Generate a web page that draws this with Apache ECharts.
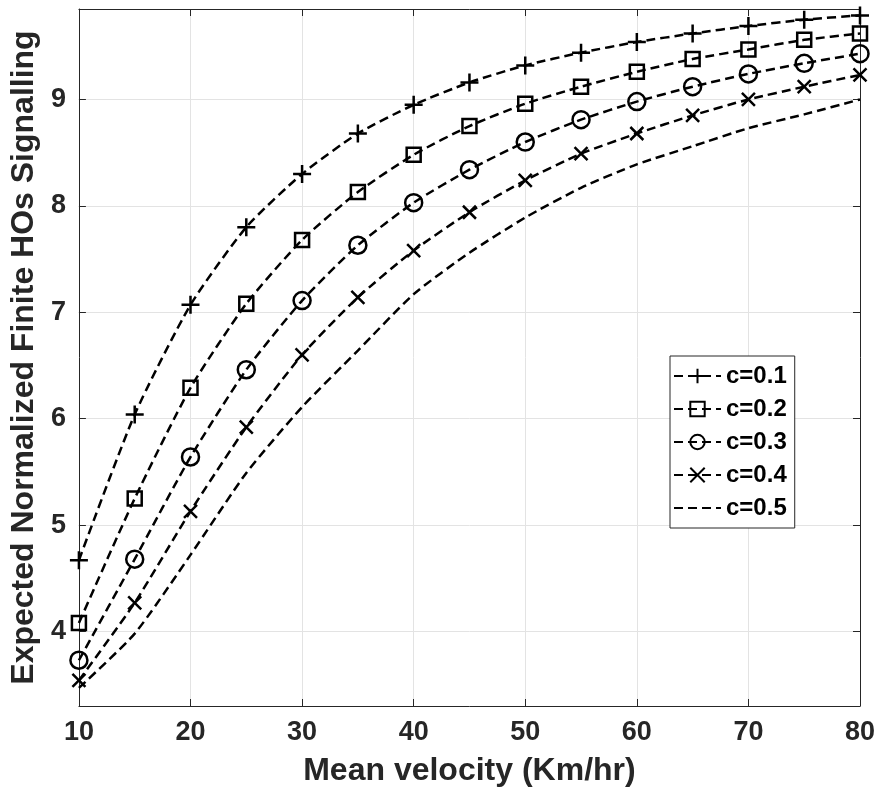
<!DOCTYPE html>
<html>
<head>
<meta charset="utf-8">
<script src="https://cdn.jsdelivr.net/npm/echarts@6/dist/echarts.min.js"></script>
<style>html,body{margin:0;padding:0;background:#fff}#chart{width:883px;height:798px}</style>
</head>
<body>
<div id="chart"></div>
<script>
const velocity = [10, 15, 20, 25, 30, 35, 40, 45, 50, 55, 60, 65, 70, 75, 80];
const c01 = [4.67, 6.04, 7.07, 7.80, 8.30, 8.68, 8.95, 9.16, 9.32, 9.44, 9.54, 9.62, 9.69, 9.75, 9.79];
const c02 = [4.08, 5.25, 6.29, 7.08, 7.68, 8.13, 8.48, 8.75, 8.96, 9.12, 9.26, 9.38, 9.47, 9.56, 9.62];
const c03 = [3.73, 4.68, 5.64, 6.46, 7.11, 7.63, 8.03, 8.34, 8.60, 8.81, 8.98, 9.12, 9.24, 9.34, 9.43];
const c04 = [3.54, 4.27, 5.13, 5.92, 6.60, 7.14, 7.58, 7.94, 8.24, 8.49, 8.68, 8.85, 9.00, 9.12, 9.23];
const c05 = [3.47, 3.98, 4.72, 5.49, 6.11, 6.64, 7.17, 7.56, 7.89, 8.17, 8.39, 8.56, 8.73, 8.86, 9.00];
const seriesNames = ['c=0.1', 'c=0.2', 'c=0.3', 'c=0.4', 'c=0.5'];
const xTitle = 'Mean velocity (Km/hr)';
const yTitle = 'Expected Normalized Finite HOs Signalling';

const FONT = 'Liberation Sans';
const TXT = '#262626';
const PLUS = 'path://M0,5L10,5M5,0L5,10';
const CROSS = 'path://M0,0L10,10M10,0L0,10';

function pairs(ys) { return velocity.map((v, i) => [v, ys[i]]); }

function mk(name, ys, symbol, size, show) {
  return {
    name: name,
    type: 'line',
    xAxisIndex: 0,
    yAxisIndex: 0,
    data: pairs(ys),
    smooth: 0.2,
    symbol: symbol,
    symbolSize: size,
    showSymbol: show,
    lineStyle: { color: '#000', width: 2.5, type: [9, 5] },
    itemStyle: { color: 'rgba(0,0,0,0)', borderColor: '#000', borderWidth: show ? 2.5 : 0 },
    emphasis: { disabled: true },
    z: 3
  };
}

const legendItems = seriesNames.map((n, i) => i === 4
  ? { name: n, itemStyle: { color: 'rgba(0,0,0,0)', borderWidth: 0, opacity: 0 } }
  : { name: n });

const chart = echarts.init(document.getElementById('chart'), null, { renderer: 'canvas' });
const axisLineStyle = { color: TXT, width: 1 };
chart.setOption({
  animation: false,
  backgroundColor: '#fff',
  grid: { left: 73.5, right: 23, top: 9, bottom: 92, containLabel: false },
  legend: {
    orient: 'vertical',
    left: 670,
    top: 356,
    data: legendItems,
    itemWidth: 47,
    itemHeight: 18,
    itemGap: 9,
    padding: [8, 8, 8, 3],
    borderColor: TXT,
    borderWidth: 1,
    backgroundColor: '#fff',
    selectedMode: false,
    textStyle: { fontFamily: FONT, fontWeight: 'bold', fontSize: 24, color: '#000' }
  },
  xAxis: [
    {
      type: 'value', min: 10, max: 80, interval: 10, position: 'bottom',
      axisLine: { show: true, onZero: false, lineStyle: axisLineStyle },
      axisTick: { show: true, inside: true, length: 7, lineStyle: axisLineStyle },
      axisLabel: { fontFamily: FONT, fontWeight: 'bold', fontSize: 27, color: TXT, margin: 13 },
      splitLine: { show: true, lineStyle: { color: '#e3e3e3', width: 1 } },
      name: xTitle, nameLocation: 'middle', nameGap: 49,
      nameTextStyle: { fontFamily: FONT, fontWeight: 'bold', fontSize: 32, color: TXT }
    },
    {
      type: 'value', min: 10, max: 80, interval: 10, position: 'top',
      axisLine: { show: true, onZero: false, lineStyle: axisLineStyle },
      axisTick: { show: true, inside: true, length: 7, lineStyle: axisLineStyle },
      axisLabel: { show: false },
      splitLine: { show: false }
    }
  ],
  yAxis: [
    {
      type: 'value', min: 3.3, max: 9.85, position: 'left',
      axisLine: { show: true, onZero: false, lineStyle: axisLineStyle },
      axisTick: { show: true, inside: true, length: 7, lineStyle: axisLineStyle },
      axisLabel: { fontFamily: FONT, fontWeight: 'bold', fontSize: 27, color: TXT, margin: 13,
                   showMinLabel: false, showMaxLabel: false },
      splitLine: { show: true, lineStyle: { color: '#e3e3e3', width: 1 } },
      name: yTitle, nameLocation: 'middle', nameGap: 30, nameRotate: 90,
      nameTextStyle: { fontFamily: FONT, fontWeight: 'bold', fontSize: 32, color: TXT }
    },
    {
      type: 'value', min: 3.3, max: 9.85, position: 'right',
      axisLine: { show: true, onZero: false, lineStyle: axisLineStyle },
      axisTick: { show: true, inside: true, length: 7, lineStyle: axisLineStyle },
      axisLabel: { show: false },
      splitLine: { show: false }
    }
  ],
  series: [
    mk(seriesNames[0], c01, PLUS, 18, true),
    mk(seriesNames[1], c02, 'rect', 14, true),
    mk(seriesNames[2], c03, 'circle', 17, true),
    mk(seriesNames[3], c04, CROSS, 13, true),
    mk(seriesNames[4], c05, 'circle', 2, false)
  ]
});
</script>
</body>
</html>
